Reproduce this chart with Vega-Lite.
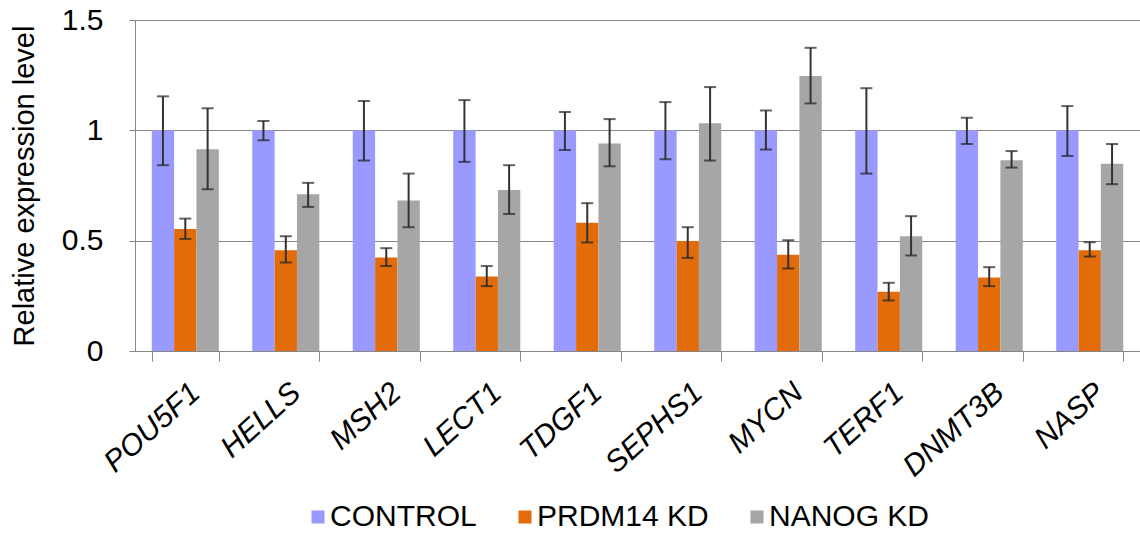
{
  "$schema": "https://vega.github.io/schema/vega-lite/v6.json",
  "autosize": "none",
  "width": 1005,
  "height": 331,
  "padding": {"left": 135, "top": 20, "right": 0, "bottom": 186},
  "background": "white",
  "config": {
    "view": {"stroke": null},
    "font": "Liberation Sans",
    "axis": {"labelFont": "Liberation Sans", "titleFont": "Liberation Sans", "labelColor": "#000000", "titleColor": "#000000"},
    "legend": {"labelFont": "Liberation Sans"}
  },
  "data": {
    "values": [
      {"gene": "POU5F1", "group": "CONTROL", "value": 1.0, "lo": 0.842, "hi": 1.154},
      {"gene": "POU5F1", "group": "PRDM14 KD", "value": 0.553, "lo": 0.508, "hi": 0.600},
      {"gene": "POU5F1", "group": "NANOG KD", "value": 0.914, "lo": 0.733, "hi": 1.100},
      {"gene": "HELLS", "group": "CONTROL", "value": 1.0, "lo": 0.955, "hi": 1.042},
      {"gene": "HELLS", "group": "PRDM14 KD", "value": 0.457, "lo": 0.401, "hi": 0.520},
      {"gene": "HELLS", "group": "NANOG KD", "value": 0.710, "lo": 0.653, "hi": 0.762},
      {"gene": "MSH2", "group": "CONTROL", "value": 1.0, "lo": 0.863, "hi": 1.133},
      {"gene": "MSH2", "group": "PRDM14 KD", "value": 0.424, "lo": 0.385, "hi": 0.466},
      {"gene": "MSH2", "group": "NANOG KD", "value": 0.682, "lo": 0.561, "hi": 0.804},
      {"gene": "LECT1", "group": "CONTROL", "value": 1.0, "lo": 0.857, "hi": 1.137},
      {"gene": "LECT1", "group": "PRDM14 KD", "value": 0.338, "lo": 0.294, "hi": 0.385},
      {"gene": "LECT1", "group": "NANOG KD", "value": 0.730, "lo": 0.621, "hi": 0.842},
      {"gene": "TDGF1", "group": "CONTROL", "value": 1.0, "lo": 0.911, "hi": 1.083},
      {"gene": "TDGF1", "group": "PRDM14 KD", "value": 0.581, "lo": 0.492, "hi": 0.670},
      {"gene": "TDGF1", "group": "NANOG KD", "value": 0.940, "lo": 0.837, "hi": 1.051},
      {"gene": "SEPHS1", "group": "CONTROL", "value": 1.0, "lo": 0.869, "hi": 1.128},
      {"gene": "SEPHS1", "group": "PRDM14 KD", "value": 0.498, "lo": 0.422, "hi": 0.561},
      {"gene": "SEPHS1", "group": "NANOG KD", "value": 1.032, "lo": 0.863, "hi": 1.196},
      {"gene": "MYCN", "group": "CONTROL", "value": 1.0, "lo": 0.913, "hi": 1.090},
      {"gene": "MYCN", "group": "PRDM14 KD", "value": 0.436, "lo": 0.374, "hi": 0.502},
      {"gene": "MYCN", "group": "NANOG KD", "value": 1.246, "lo": 1.122, "hi": 1.374},
      {"gene": "TERF1", "group": "CONTROL", "value": 1.0, "lo": 0.804, "hi": 1.191},
      {"gene": "TERF1", "group": "PRDM14 KD", "value": 0.268, "lo": 0.229, "hi": 0.309},
      {"gene": "TERF1", "group": "NANOG KD", "value": 0.520, "lo": 0.433, "hi": 0.611},
      {"gene": "DNMT3B", "group": "CONTROL", "value": 1.0, "lo": 0.938, "hi": 1.057},
      {"gene": "DNMT3B", "group": "PRDM14 KD", "value": 0.333, "lo": 0.294, "hi": 0.380},
      {"gene": "DNMT3B", "group": "NANOG KD", "value": 0.864, "lo": 0.831, "hi": 0.906},
      {"gene": "NASP", "group": "CONTROL", "value": 1.0, "lo": 0.884, "hi": 1.110},
      {"gene": "NASP", "group": "PRDM14 KD", "value": 0.457, "lo": 0.428, "hi": 0.493},
      {"gene": "NASP", "group": "NANOG KD", "value": 0.848, "lo": 0.756, "hi": 0.938}
    ]
  },
  "encoding": {
    "x": {
      "field": "gene", "type": "nominal", "sort": null,
      "scale": {"paddingInner": 0.333, "paddingOuter": 0.167},
      "axis": {
        "title": null, "labelAngle": -42, "labelFontSize": 30, "labelFontStyle": "italic",
        "labelPadding": 16, "labelDx": -5, "tickBand": "extent", "tickSize": 10, "tickColor": "#868686",
        "domainColor": "#868686", "domainWidth": 1, "grid": false
      }
    },
    "xOffset": {
      "field": "group", "type": "nominal",
      "sort": ["CONTROL", "PRDM14 KD", "NANOG KD"],
      "scale": {"paddingInner": 0, "paddingOuter": 0}
    }
  },
  "layer": [
    {
      "mark": {"type": "bar"},
      "encoding": {
        "y": {
          "field": "value", "type": "quantitative",
          "scale": {"domain": [0, 1.5], "nice": false},
          "axis": {
            "title": "Relative expression level", "titleFontSize": 29, "titleFontWeight": "normal",
            "titlePadding": 22, "values": [0, 0.5, 1, 1.5], "format": "~g", "labelFontSize": 30, "labelPadding": 26,
            "tickSize": 6, "tickColor": "#868686", "domainColor": "#868686",
            "grid": true, "gridColor": "#868686", "gridWidth": 1
          }
        },
        "color": {
          "field": "group", "type": "nominal",
          "sort": ["CONTROL", "PRDM14 KD", "NANOG KD"],
          "scale": {"domain": ["CONTROL", "PRDM14 KD", "NANOG KD"], "range": ["#9999FF", "#E36C0A", "#A6A6A6"]},
          "legend": {
            "title": null, "orient": "none", "direction": "horizontal",
            "legendX": 168, "legendY": 482, "symbolType": "square", "symbolSize": 170,
            "symbolStrokeWidth": 0, "labelFontSize": 30, "labelOffset": -3, "columnPadding": 33,
            "labelLimit": 0, "labelColor": "#000000"
          }
        }
      }
    },
    {
      "mark": {"type": "rule", "color": "#333333", "strokeWidth": 2},
      "encoding": {
        "y": {"field": "lo", "type": "quantitative"},
        "y2": {"field": "hi"}
      }
    },
    {
      "mark": {"type": "tick", "color": "#222222", "thickness": 2, "size": 12},
      "encoding": {"y": {"field": "lo", "type": "quantitative"}}
    },
    {
      "mark": {"type": "tick", "color": "#222222", "thickness": 2, "size": 12},
      "encoding": {"y": {"field": "hi", "type": "quantitative"}}
    }
  ]
}
